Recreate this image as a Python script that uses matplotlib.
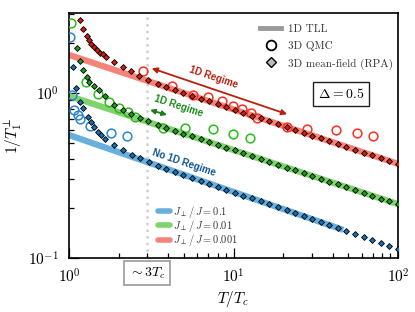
import matplotlib
matplotlib.use("Agg")
import matplotlib.pyplot as plt
from matplotlib.lines import Line2D
from matplotlib.ticker import NullFormatter

plt.rcParams['font.family'] = 'serif'
plt.rcParams['font.serif'] = ['cmr10', 'DejaVu Serif']
plt.rcParams['mathtext.fontset'] = 'cm'
plt.rcParams['axes.formatter.use_mathtext'] = True

# ---------------- data ----------------
# 1D TLL power-law lines (endpoints)
tll_red_x = [1.0, 100.0]
tll_red_y = [1.70, 0.372]
tll_green_x = [1.0, 100.0]
tll_green_y = [0.959, 0.212]
tll_blue_x = [1.0, 46.5]
tll_blue_y = [0.556, 0.148]

# common high-T grid of the RPA points
rpa_hi_x = [3.46, 3.90, 4.40, 4.96, 5.60, 6.31, 7.11, 8.02, 9.05, 10.2, 11.5, 13.0,
            14.6, 16.5, 18.6, 21.0, 23.7, 26.7, 30.1, 34.0, 38.3, 43.2, 48.6, 54.8,
            61.9, 69.8, 78.7, 88.7, 100.0]

# 3D mean-field (RPA)
rpa_red_x = [1.166, 1.222, 1.281, 1.318, 1.360, 1.425, 1.479, 1.537, 1.603, 1.679,
             1.877, 2.12, 2.39, 2.68, 3.03] + rpa_hi_x
rpa_red_y = [2.78, 2.44, 2.22, 2.10, 1.98, 1.89, 1.82, 1.75, 1.71, 1.66,
             1.53, 1.43, 1.35, 1.26, 1.20,
             1.135, 1.088, 1.044, 1.001, 0.962, 0.925, 0.889, 0.855, 0.821, 0.789,
             0.759, 0.729, 0.701, 0.673, 0.647, 0.622, 0.598, 0.574, 0.552, 0.531,
             0.510, 0.490, 0.471, 0.453, 0.435, 0.418, 0.402, 0.386, 0.372]

rpa_green_x = [1.118, 1.166, 1.222, 1.281, 1.329, 1.425, 1.529, 1.663, 1.885,
               2.12, 2.38, 2.70, 3.03] + rpa_hi_x
rpa_green_y = [1.87, 1.57, 1.38, 1.245, 1.16, 1.098, 1.04, 0.955, 0.845,
               0.789, 0.743, 0.709, 0.680,
               0.642, 0.614, 0.590, 0.567, 0.545, 0.524, 0.504, 0.485, 0.466, 0.448,
               0.431, 0.414, 0.398, 0.382, 0.368, 0.353, 0.340, 0.327, 0.314, 0.302,
               0.290, 0.279, 0.268, 0.258, 0.248, 0.238, 0.229, 0.220, 0.212]

rpa_blue_x = [1.053, 1.103, 1.166, 1.222, 1.299, 1.36, 1.425, 1.494, 1.565, 1.662,
              1.885, 2.12, 2.40, 2.70, 3.05] + rpa_hi_x
rpa_blue_y = [1.43, 1.068, 0.886, 0.808, 0.719, 0.67, 0.62, 0.583, 0.556, 0.524,
              0.484, 0.452, 0.421, 0.402, 0.383,
              0.362, 0.348, 0.334, 0.320, 0.307, 0.294, 0.282, 0.271, 0.260, 0.249,
              0.239, 0.230, 0.220, 0.211, 0.203, 0.195, 0.187, 0.179, 0.172, 0.165,
              0.158, 0.152, 0.146, 0.140, 0.134, 0.129, 0.123, 0.118, 0.1135]

# 3D QMC
qmc_red_x = [2.83, 4.25, 5.65, 7.0, 8.47, 9.89, 11.2, 12.7, 13.95, 21.2, 28.1, 42.0, 56.1, 70.2]
qmc_red_y = [1.35, 1.10, 0.972, 0.942, 0.894, 0.834, 0.796, 0.753, 0.708, 0.620, 0.603,
             0.597, 0.570, 0.551]
qmc_green_x = [1.03, 1.27, 1.51, 1.76, 2.01, 2.27, 2.52, 3.74, 5.07, 7.54, 9.97, 12.6]
qmc_green_y = [2.64, 1.17, 0.982, 0.885, 0.814, 0.770, 0.718, 0.616, 0.611, 0.603, 0.562, 0.536]
qmc_blue_x = [1.02, 1.04, 1.08, 1.13, 1.17, 1.34, 1.81, 2.24]
qmc_blue_y = [2.19, 0.968, 0.785, 0.739, 0.699, 0.633, 0.568, 0.547]

legend_labels = [r'$J_\perp\,/\,J = 0.1$', r'$J_\perp\,/\,J = 0.01$', r'$J_\perp\,/\,J = 0.001$']

# ---------------- style ----------------
line_cols = ['#68afdc', '#7fd36c', '#f6837a']
dia_cols = ['#1470b5', '#1f9a1f', '#cf1d10']
circ_cols = ['#2a86d0', '#27c015', '#ff2d1e']

fig = plt.figure(figsize=(4.15, 3.12), dpi=100)
ax = fig.add_axes([69/415, 54/312, 329/415, 245/312])
ax.set_xscale('log')
ax.set_yscale('log')
ax.set_xlim(1, 100)
ax.set_ylim(0.1, 3.05)

ax.axvline(3.0, color='#cfcfcf', ls=':', lw=1.8, zorder=1)

lw_tll = 4.5
tll = [(tll_blue_x, tll_blue_y), (tll_green_x, tll_green_y), (tll_red_x, tll_red_y)]
rpa = [(rpa_blue_x, rpa_blue_y), (rpa_green_x, rpa_green_y), (rpa_red_x, rpa_red_y)]
qmc = [(qmc_blue_x, qmc_blue_y), (qmc_green_x, qmc_green_y), (qmc_red_x, qmc_red_y)]
for i in range(3):
    ax.plot(tll[i][0], tll[i][1], color=line_cols[i], lw=lw_tll, solid_capstyle='butt', zorder=2)
for i in range(3):
    ax.plot(qmc[i][0], qmc[i][1], ls='none', marker='o', ms=6.3, mfc='none',
            mec=circ_cols[i], mew=1.1, zorder=3)
    ax.plot(rpa[i][0], rpa[i][1], ls='none', marker='D', ms=3.0, mfc=dia_cols[i],
            mec='black', mew=0.6, zorder=4)

# spines / ticks
for s in ax.spines.values():
    s.set_linewidth(1.2)
ax.tick_params(which='both', direction='in', top=False, right=False, width=0.9)
ax.tick_params(which='major', length=7, labelsize=11, pad=7)
ax.tick_params(which='minor', length=3.5)
ax.xaxis.set_minor_formatter(NullFormatter())
ax.yaxis.set_minor_formatter(NullFormatter())

ax.set_xlabel(r'$T/T_c$', fontsize=11, labelpad=2)
ax.set_ylabel(r'$1/T_1^{\perp}$', fontsize=11, labelpad=3)

# annotations
ax.annotate('', xy=(3.18, 1.41), xytext=(21.2, 0.743),
            arrowprops=dict(arrowstyle='<|-|>', color='#b8200e', lw=1.3,
                            mutation_scale=8, shrinkA=0, shrinkB=0))
ax.annotate('', xy=(3.11, 0.789), xytext=(3.94, 0.736),
            arrowprops=dict(arrowstyle='<|-|>', color='#1a7f1a', lw=1.3,
                            mutation_scale=7, shrinkA=0, shrinkB=0))
sans = ['Liberation Sans', 'DejaVu Sans']
ax.text(7.61, 1.25, '1D Regime', color='#b8200e', rotation=-18.5, fontsize=7,
        fontweight='bold', family=sans, ha='center', va='center', rotation_mode='anchor')
ax.text(4.66, 0.834, '1D Regime', color='#1a8a1a', rotation=-18, fontsize=7,
        fontweight='bold', family=sans, ha='center', va='center', rotation_mode='anchor')
ax.text(5.0, 0.38, 'No 1D Regime', color='#0d5591', rotation=-18.5, fontsize=7,
        fontweight='bold', family=sans, ha='center', va='center', rotation_mode='anchor')

ax.text((341-69)/329, (258-94)/245, r'$\Delta = 0.5$', transform=ax.transAxes,
        fontsize=10, ha='center', va='center',
        bbox=dict(boxstyle='square,pad=0.35', fc='white', ec='#222222', lw=1.0))
fig.text(147/415, 1-273/312, r'$\sim 3T_c$', fontsize=10, ha='center', va='center',
         bbox=dict(boxstyle='square,pad=0.3', fc='white', ec='#999999', lw=1.2))

# legend 1 (model types)
h1 = [Line2D([], [], color='#999999', lw=3.5),
      Line2D([], [], ls='none', marker='o', ms=7, mfc='none', mec='black', mew=1.3),
      Line2D([], [], ls='none', marker='D', ms=5.5, mfc='#bbbbbb', mec='black', mew=1.0)]
leg1 = ax.legend(h1, ['1D TLL', '3D QMC', '3D mean-field (RPA)'], loc='upper left',
                 bbox_to_anchor=(0.581, 0.955), frameon=False, fontsize=8,
                 handlelength=1.9, handletextpad=0.6, labelspacing=0.65,
                 borderpad=0, borderaxespad=0, labelcolor='#333333')
ax.add_artist(leg1)

# legend 2 (couplings)
h2 = [Line2D([], [], color=line_cols[i], lw=4, solid_capstyle='round') for i in range(3)]
ax.legend(h2, legend_labels, loc='upper left', bbox_to_anchor=(0.27, 0.222),
          frameon=False, fontsize=7.5, handlelength=1.2, handletextpad=0.3,
          labelspacing=-0.15, borderpad=0, borderaxespad=0, labelcolor='#333333')

fig.savefig('out.png', dpi=100)
